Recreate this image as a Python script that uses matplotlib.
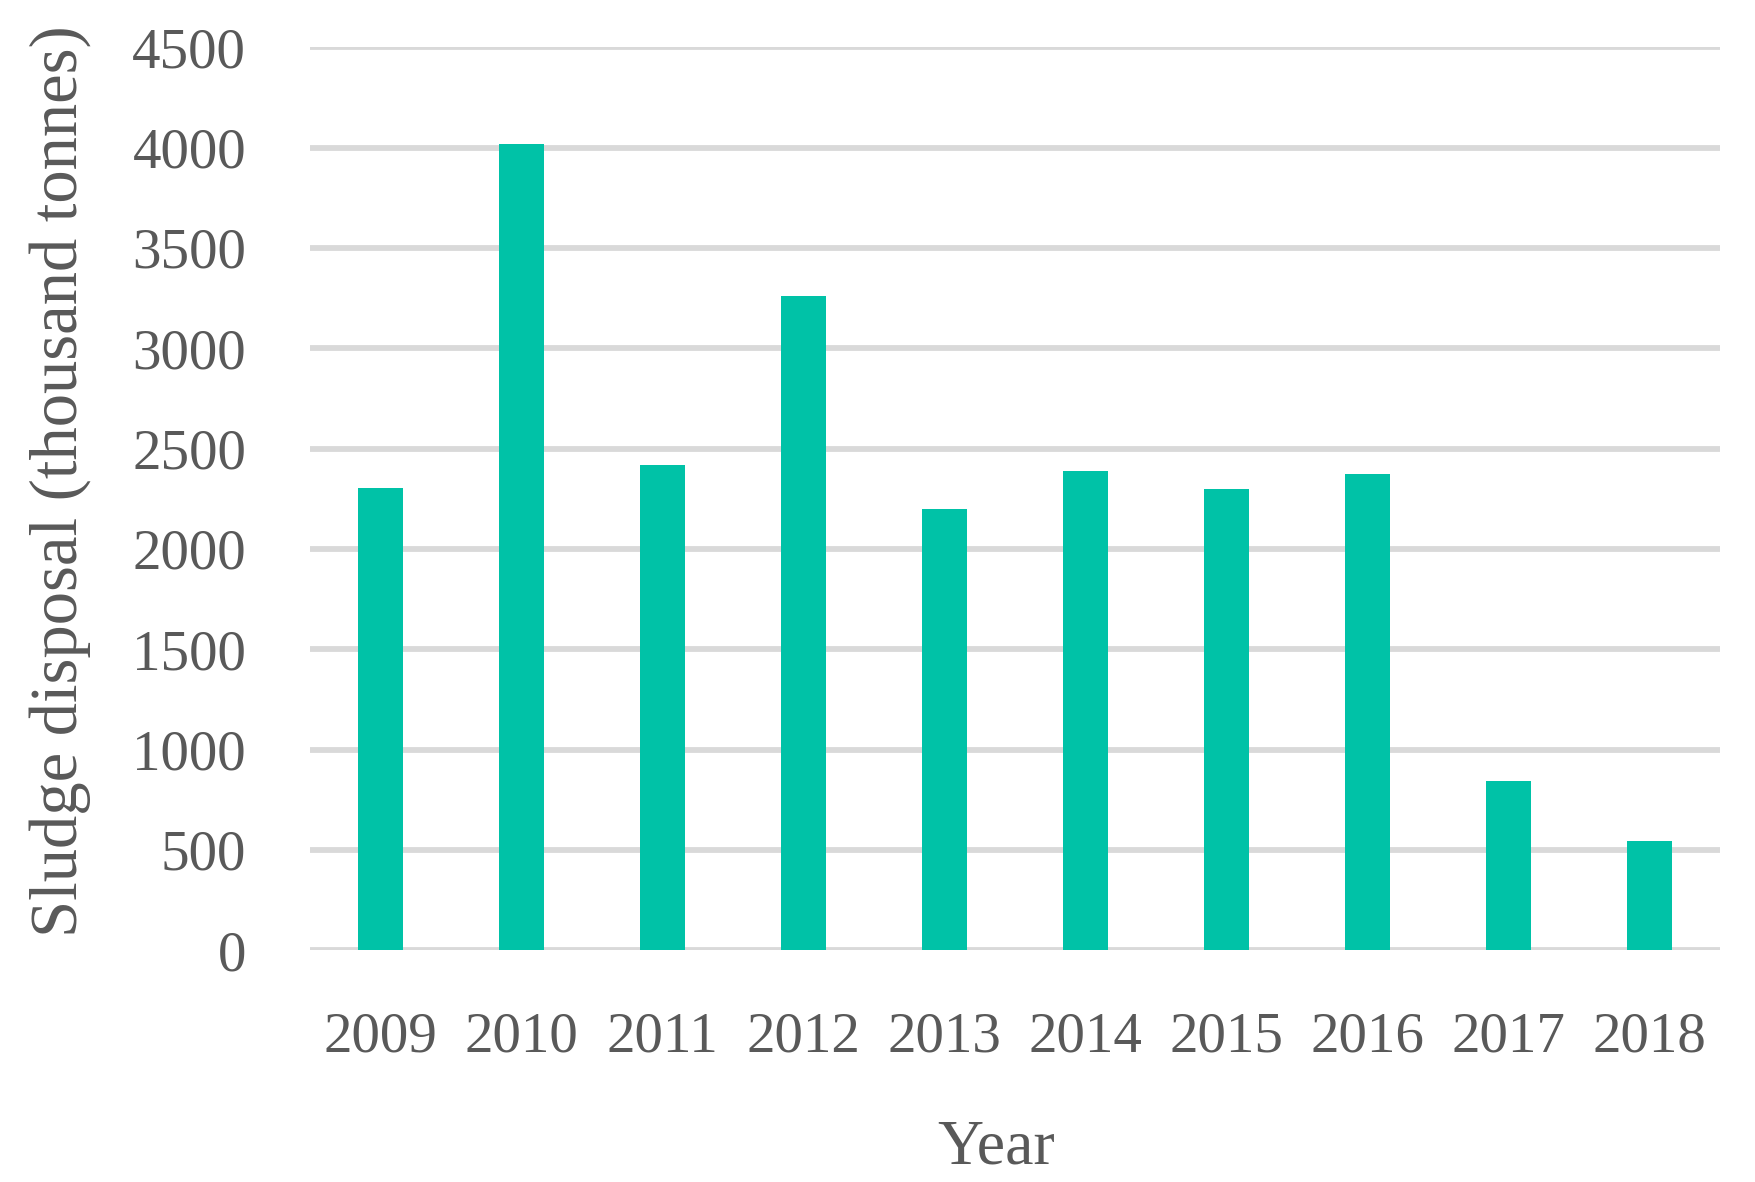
import matplotlib
matplotlib.use('Agg')
from matplotlib import pyplot as plt

# values
years = ['2009', '2010', '2011', '2012', '2013', '2014', '2015', '2016', '2017', '2018']
sludge = [2305, 4020, 2419, 3260, 2200, 2389, 2297, 2375, 842, 546]
yticks = [0, 500, 1000, 1500, 2000, 2500, 3000, 3500, 4000, 4500]

plt.rcParams['font.family'] = ['Liberation Serif', 'DejaVu Serif']
txt = '#595959'

fig = plt.figure(figsize=(17.55, 11.82), dpi=100)
ax = fig.add_axes([0.1766, 0.196, 0.8034, 0.764])

ax.bar(range(len(years)), sludge, width=0.32, color='#00C2A7', zorder=3)

ax.set_xlim(-0.5, len(years) - 0.5)
ax.set_ylim(0, 4500)
ax.set_yticks(yticks)
ax.set_xticks(range(len(years)))
ax.set_xticklabels(years)

ax.yaxis.grid(True, color='#D9D9D9', linewidth=4.2, zorder=0)
ax.set_axisbelow(True)
for s in ax.spines.values():
    s.set_visible(False)
ax.tick_params(axis='both', length=0, labelsize=41, colors=txt)
ax.tick_params(axis='y', pad=46)
ax.tick_params(axis='x', pad=44)

ax.set_xlabel('Year', fontsize=46, color=txt)
ax.xaxis.set_label_coords(0.487, -0.187)
ax.set_ylabel('Sludge disposal (thousand tonnes)', fontsize=48, color=txt)
ax.yaxis.set_label_coords(-0.155, 0.52)

plt.savefig('out.png', dpi=100)
